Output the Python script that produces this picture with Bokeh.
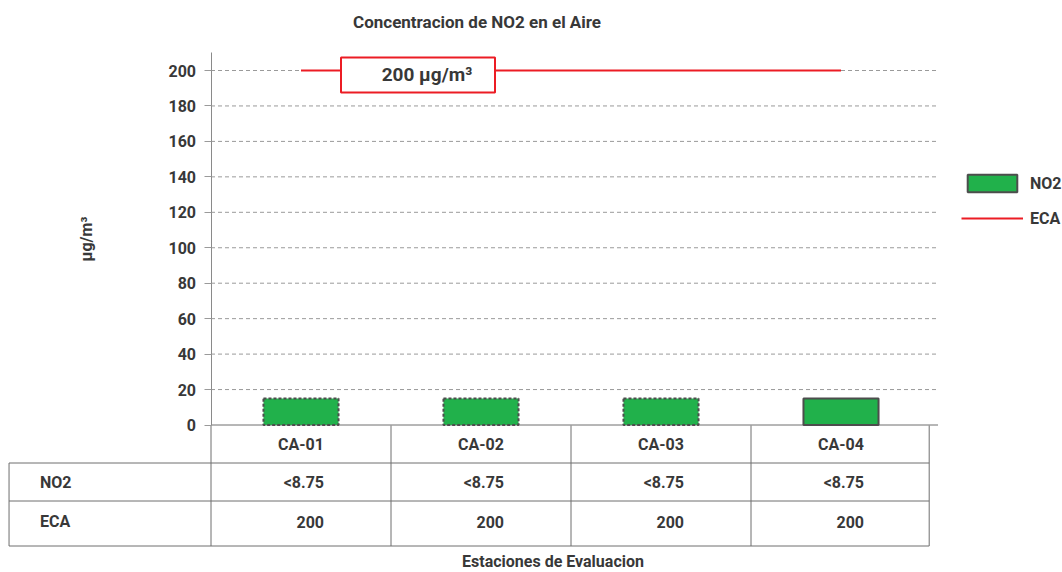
from bokeh.plotting import figure
from bokeh.models import (Range1d, FixedTicker, Legend, LegendItem,
                          ColumnDataSource, CDSView, IndexFilter)
from bokeh.core.properties import value
from bokeh.embed import file_html
from bokeh.resources import INLINE

# ---------------- data ----------------
title_text = "Concentracion de NO2 en el Aire"
x_title = "Estaciones de Evaluacion"
y_title = "µg/m³"
categories = ["CA-01", "CA-02", "CA-03", "CA-04"]
no2_values = [15, 15, 15, 15]
no2_labels = ["<8.75", "<8.75", "<8.75", "<8.75"]
eca_values = [200, 200, 200, 200]
eca_labels = ["200", "200", "200", "200"]
eca_box_text = "200 µg/m³"
y_ticks = [0, 20, 40, 60, 80, 100, 120, 140, 160, 180, 200]
row_names = ["NO2", "ECA"]
series_names = ["NO2", "ECA"]

# ---------------- styles ----------------
FONT = "Roboto"
TEXT = "#383838"
GREEN = "#21b14b"
RED = "#ec1c24"
EDGE = "#4d4d4d"
TABLE_LINE = "#6e6e6e"
GRID = "#9a9a9a"
FS = "16px"

W, H = 1062, 570
PX_X = 180.0          # pixels per category
PX_Y = 1.7725         # pixels per µg/m³
x0 = -300.5 / PX_X
y0 = -(H - 424.5) / PX_Y

x_idx = list(range(len(categories)))

p = figure(width=W, height=H, output_backend="svg", toolbar_location=None,
           x_range=Range1d(x0, x0 + W / PX_X), y_range=Range1d(y0, y0 + H / PX_Y),
           x_axis_location=None, y_axis_location="left", min_border=0)
p.outline_line_color = None
p.grid.visible = False
# table coordinates: pixels measured downward from the chart baseline
p.extra_y_ranges = {"table": Range1d(H - 425, H - 425 - H)}

# ---------------- y axis ----------------
ya = p.yaxis[0]
ya.fixed_location = -0.5
ya.bounds = (0, 210)
ya.ticker = FixedTicker(ticks=y_ticks)
ya.axis_label = y_title
ya.axis_label_standoff = 70
ya.axis_label_text_font = FONT
ya.axis_label_text_font_style = "bold"
ya.axis_label_text_font_size = FS
ya.axis_label_text_color = TEXT
ya.major_label_text_font = FONT
ya.major_label_text_font_style = "bold"
ya.major_label_text_font_size = FS
ya.major_label_text_color = TEXT
ya.major_label_standoff = 8
ya.major_tick_out = 7
ya.major_tick_in = 0
ya.minor_tick_out = 0
ya.minor_tick_in = 0
ya.axis_line_color = "#8a8a8a"
ya.major_tick_line_color = GRID

x_left = -0.5
x_right = 3.539
grid_y = y_ticks[1:]
p.segment(x0=[x_left] * len(grid_y), y0=grid_y, x1=[x_right] * len(grid_y), y1=grid_y,
          line_color=GRID, line_width=1, line_dash="4 3")
p.segment(x0=[x_left], y0=[0], x1=[x_right], y1=[0], line_color=TABLE_LINE, line_width=1)

# ---------------- bars & ECA ----------------
src = ColumnDataSource(dict(x=x_idx, top=no2_values))
r_dashed = p.vbar(x="x", top="top", bottom=0, width=0.417, source=src,
                  view=CDSView(filter=IndexFilter([0, 1, 2])),
                  fill_color=GREEN, line_color=EDGE, line_width=2, line_dash="3 2")
r_solid = p.vbar(x="x", top="top", bottom=0, width=0.417, source=src,
                 view=CDSView(filter=IndexFilter([3])),
                 fill_color=GREEN, line_color=EDGE, line_width=2)

r_line = p.line(x_idx, eca_values, line_color=RED, line_width=2)

box_y = eca_values[0] - 2.5
p.rect(x=[0.65], y=[box_y], width=154, height=35, width_units="screen",
       height_units="screen", fill_color="white", line_color=RED, line_width=2)
p.text(x=[0.7], y=[box_y], text=[eca_box_text], text_align="center",
       text_baseline="middle", text_font=value(FONT), text_font_style="bold",
       text_font_size="19px", text_color=TEXT)

legend = Legend(items=[LegendItem(label=series_names[0], renderers=[r_solid]),
                       LegendItem(label=series_names[1], renderers=[r_line])],
                location=(961, H - 229), orientation="vertical",
                glyph_width=62, glyph_height=22, label_standoff=7, spacing=13,
                padding=0, margin=0, border_line_color=None,
                background_fill_alpha=0, label_text_font=FONT,
                label_text_font_style="bold", label_text_font_size=FS,
                label_text_color=TEXT, label_height=22)
p.add_layout(legend, "center")

txt = dict(text_font=value(FONT), text_font_style="bold", text_font_size=FS,
           text_color=TEXT, text_baseline="middle")

# title
p.text(x=[0.978], y=[-404], y_range_name="table", text=[title_text],
       text_align="center", text_font=value(FONT), text_font_style="bold",
       text_font_size="17px", text_color=TEXT, text_baseline="middle")

# ---------------- data table ----------------
left_edge = -1.622
right_edge = 3.49
row_lines = [37.5, 75.5, 120.5]
p.segment(x0=[left_edge] * 3, y0=row_lines, x1=[right_edge] * 3, y1=row_lines,
          y_range_name="table", line_color=TABLE_LINE, line_width=1)
col_lines = [-0.5, 0.5, 1.5, 2.5, right_edge]
p.segment(x0=col_lines, y0=[0] * 5, x1=col_lines, y1=[120.5] * 5,
          y_range_name="table", line_color=TABLE_LINE, line_width=1)
p.segment(x0=[left_edge], y0=[37.5], x1=[left_edge], y1=[120.5],
          y_range_name="table", line_color=TABLE_LINE, line_width=1)

p.text(x=x_idx, y=[19] * 4, y_range_name="table", text=categories,
       text_align="center", **txt)
p.text(x=x_idx, y=[57] * 4, y_range_name="table", text=no2_labels,
       text_align="right", x_offset=23, **txt)
p.text(x=x_idx, y=[96] * 4, y_range_name="table", text=eca_labels,
       text_align="right", x_offset=23, **txt)
p.text(x=[left_edge] * 2, y=[57, 96], y_range_name="table", text=row_names,
       text_align="left", x_offset=31, **txt)
p.text(x=[1.4], y=[136], y_range_name="table", text=[x_title], **dict(txt, text_align="center"))

open("out.html", "w").write(file_html(p, INLINE))
